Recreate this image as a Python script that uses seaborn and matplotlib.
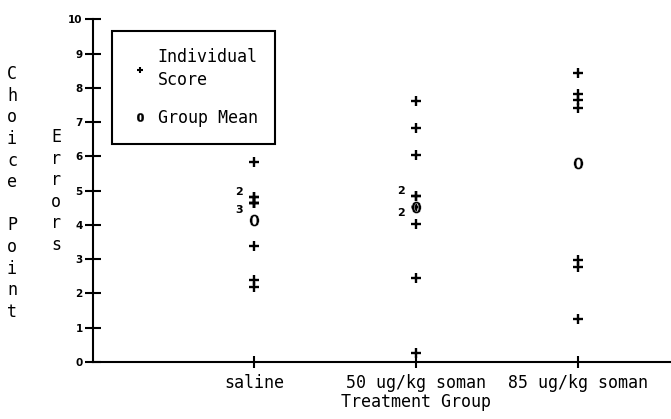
import matplotlib
matplotlib.use("Agg")
import matplotlib.pyplot as plt
import matplotlib.transforms as mtransforms
from matplotlib.lines import Line2D
import numpy as np
import pandas as pd
import seaborn as sns

# ---- data ----
categories = ["saline", "50 ug/kg soman", "85 ug/kg soman"]
saline_scores = [5.84, 4.81, 4.81, 4.63, 4.63, 4.63, 3.38, 2.39, 2.20]
soman50_scores = [7.62, 6.84, 6.04, 4.84, 4.84, 4.53, 4.53, 4.03, 2.45, 0.25]
soman85_scores = [8.42, 7.82, 7.65, 7.42, 2.98, 2.77, 1.25]
group_means = [4.14, 4.53, 5.80]
# tied scores annotated with their count
count_groups = ["saline", "saline", "50 ug/kg soman", "50 ug/kg soman"]
count_values = [4.81, 4.63, 4.84, 4.53]
count_texts = ["2", "3", "2", "2"]
y_ticks = list(range(0, 11))

sns.set_theme(style="white")
plt.rcParams["font.family"] = ["DejaVu Sans Mono", "DejaVu Sans"]

scores = {categories[0]: saline_scores,
          categories[1]: soman50_scores,
          categories[2]: soman85_scores}
df = pd.DataFrame([(g, s) for g, vals in scores.items() for s in vals],
                  columns=["group", "score"])
df["pos"] = df["group"].map({c: i for i, c in enumerate(categories)})
mean_df = pd.DataFrame({"group": categories, "mean": group_means})
mean_df["pos"] = range(len(categories))

W, H = 671, 419
fig = plt.figure(figsize=(W / 100, H / 100), dpi=100)
fig.patch.set_facecolor("white")
ax_left, ax_right, ax_top, ax_bottom = 93, 671, 19.3, 362
ax = fig.add_axes([ax_left / W, (H - ax_bottom) / H,
                   (ax_right - ax_left) / W, (ax_bottom - ax_top) / H])
ax.set_facecolor("white")

sns.scatterplot(data=df, x="pos", y="score", marker="+", color="black",
                s=45, linewidth=1.7, ax=ax, legend=False, zorder=3)
sns.scatterplot(data=mean_df, x="pos", y="mean", marker=r"$\mathbf{0}$",
                color="black", s=75, linewidth=0.3, ax=ax, legend=False,
                zorder=4)

# upper label of a tied pair sits above, lower one below
label_dy = [4.0, -4.5, 4.0, -4.5]
for g, v, t, dy in zip(count_groups, count_values, count_texts, label_dy):
    ax.annotate(t, xy=(categories.index(g), v), xytext=(-11, dy),
                textcoords="offset points", ha="center", va="center",
                fontsize=8, fontweight="bold", family="DejaVu Sans",
                color="black")

# axes range: category spacing of 162 px
ax.set_xlim(-(254 - ax_left) / 162, (ax_right - 254) / 162)
ax.set_ylim(0, 10)

for s in ["top", "right"]:
    ax.spines[s].set_visible(False)
for s in ["left", "bottom"]:
    ax.spines[s].set_color("black")
    ax.spines[s].set_linewidth(1.5)

ax.set_yticks(y_ticks)
ax.set_yticklabels([str(t) for t in y_ticks], fontsize=7.5,
                   fontweight="bold", family="DejaVu Sans")
ax.set_xticks(range(len(categories)))
ax.set_xticklabels(categories, fontsize=12)
ax.tick_params(axis="y", direction="inout", length=11, width=1.5,
               pad=2, colors="black", left=True)
ax.tick_params(axis="x", direction="inout", length=9, width=1.5,
               pad=4, colors="black", bottom=True)

ax.set_xlabel("Treatment Group", fontsize=12, color="black")
ax.xaxis.set_label_coords(1, -0.09,
                          transform=mtransforms.blended_transform_factory(
                              ax.transData, ax.transAxes))
ax.set_ylabel("\n".join("Errors"), rotation=0, fontsize=12,
              color="black", va="center", ha="center", linespacing=1.25)
ax.yaxis.set_label_coords(56 / W, (H - 191) / H, transform=fig.transFigure)
fig.text(12 / W, (H - 193) / H, "\n".join("Choice Point"), fontsize=12,
         color="black", va="center", ha="center", linespacing=1.26)

handles = [Line2D([], [], ls="", marker="+", color="black",
                  markersize=5, mew=1.5),
           Line2D([], [], ls="", marker=r"$\mathbf{0}$", color="black",
                  markersize=6, mew=0.3)]
leg = ax.legend(handles, ["Individual\nScore", "Group Mean"],
                loc="upper left",
                bbox_to_anchor=(112 / W, (H - 31) / H),
                bbox_transform=fig.transFigure,
                fontsize=12, frameon=True, fancybox=False, framealpha=1,
                edgecolor="black", borderpad=1.05, labelspacing=1.15,
                handlelength=1.2, handletextpad=0.5, borderaxespad=0)
leg.get_frame().set_linewidth(1.5)
for t in leg.get_texts():
    t.set_color("black")
    t.set_linespacing(1.35)

fig.savefig("out.png", dpi=100, facecolor="white")
